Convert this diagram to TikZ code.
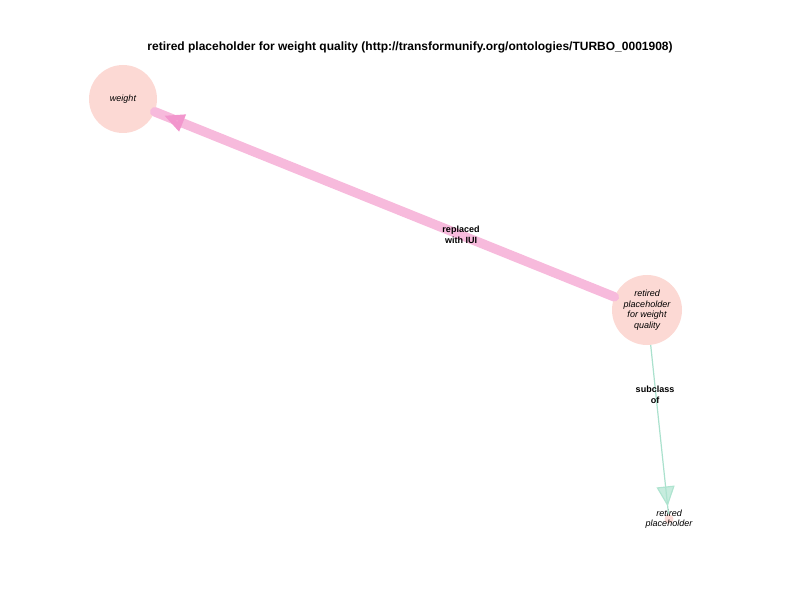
\documentclass[tikz,border=0pt]{standalone}
\usepackage{fontspec}
\setmainfont{Liberation Sans}
\usetikzlibrary{arrows.meta}
\usetikzlibrary{decorations.markings}
\definecolor{nodepink}{RGB}{252,217,212}
\definecolor{edgepink}{RGB}{247,186,220}
\definecolor{tippink}{RGB}{242,150,205}
\definecolor{edgeteal}{RGB}{170,225,205}
\definecolor{tipteal}{RGB}{175,228,208}

\begin{document}
\begin{tikzpicture}[x=1pt, y=-1pt,
        entity/.style={circle, fill=nodepink, inner sep=0pt, align=center,
            font=\fontsize{9}{10.5}\selectfont\itshape},
        edgelabel/.style={align=center, font=\fontsize{9}{10.5}\selectfont\bfseries},
        replaced/.style={line width=9.5pt, color=edgepink, line cap=round,
            postaction={decorate, decoration={markings,
                mark=at position -10pt with {\arrow[tippink, fill opacity=0.7]{Triangle[length=20pt, width=17pt]}}}}},
        subclass/.style={line width=1.2pt, color=edgeteal,
            postaction={decorate, decoration={markings,
                mark=at position -8pt with {\arrow[tipteal, fill opacity=0.7]{Triangle[length=20pt, width=18pt]}}}}}]
            \useasboundingbox (0,0) rectangle (792,612);
            \node[font=\fontsize{12}{14}\selectfont\bfseries] (title) at (410,47) {retired placeholder for weight quality (http://transformunify.org/ontologies/TURBO\_0001908)};
            % classes
            \node[entity, minimum size=68pt] (weight) at (123,99) {weight};
            \node[entity, minimum size=70pt] (rpwq) at (647,310) {retired\\placeholder\\for weight\\quality};
            \node[entity, minimum size=9pt] (rp) at (669,519) {};
            \node[entity, fill=none] (rplabel) at (669,519) {retired\\placeholder};
            % relations
            \draw[replaced] (rpwq) -- (weight);
            \draw[subclass] (rpwq) -- (rp);
            \node[edgelabel] (lreplaced) at (461,235) {replaced\\with IUI};
            \node[edgelabel] (lsubclass) at (655,395) {subclass\\of};
        \end{tikzpicture}
\end{document}
